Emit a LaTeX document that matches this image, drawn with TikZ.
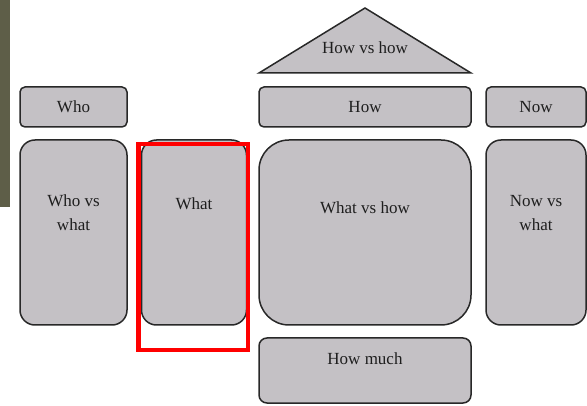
\documentclass[tikz,border=0pt]{standalone}
\usepackage{fontspec}
\setmainfont{Liberation Serif}
\definecolor{boxgray}{RGB}{196,193,197}
\definecolor{boxline}{RGB}{40,40,40}
\definecolor{sidebar}{RGB}{94,94,72}
\definecolor{txt}{RGB}{30,30,30}

\begin{document}
\begin{tikzpicture}[x=1pt,y=-1pt,
    box/.style={draw=boxline, fill=boxgray, line width=1.5pt, inner sep=0pt,
                font=\fontsize{17}{24}\selectfont, text=txt},
    lbl/.style={font=\fontsize{17}{24}\selectfont, text=txt, align=center, inner sep=0pt}]
    \useasboundingbox (0,0) rectangle (587,406);
    % side bar
    \fill[sidebar] (0,0) rectangle (10,207);

    % top row
    \node[box, rounded corners=5pt, minimum width=107pt, minimum height=40pt] (who) at (73.5,107) {Who};
    \node[box, rounded corners=5pt, minimum width=212pt, minimum height=40pt] (how) at (365,107) {How};
    \node[box, rounded corners=5pt, minimum width=100pt, minimum height=40pt] (now) at (536,107) {Now};

    % roof
    \coordinate (roofL) at (259,73);
    \coordinate (roofT) at (365,8);
    \coordinate (roofR) at (471,73);
    \draw[box] (roofL) -- (roofT) -- (roofR) -- cycle;
    \node[lbl] (howvshow) at (365,48) {How vs how};

    % middle row
    \node[box, rounded corners=15pt, minimum width=107pt, minimum height=185pt] (whovswhat) at (73.5,232.5) {};
    \node[lbl] at (73.5,213) {Who vs\\what};
    \node[box, rounded corners=15pt, minimum width=105pt, minimum height=185pt] (what) at (194,232.5) {};
    \node[lbl] at (194,204) {What};
    \node[box, rounded corners=30pt, minimum width=212pt, minimum height=185pt] (whatvshow) at (365,232.5) {};
    \node[lbl] at (365,208) {What vs how};
    \node[box, rounded corners=15pt, minimum width=100pt, minimum height=185pt] (nowvswhat) at (536,232.5) {};
    \node[lbl] at (536,213) {Now vs\\what};

    % bottom
    \node[box, rounded corners=8pt, minimum width=212pt, minimum height=65pt] (howmuch) at (365,370.5) {};
    \node[lbl] at (365,359) {How much};

    % highlight
    \draw[red, line width=4.5pt] (138.5,144) rectangle (248,350);
\end{tikzpicture}
\end{document}
